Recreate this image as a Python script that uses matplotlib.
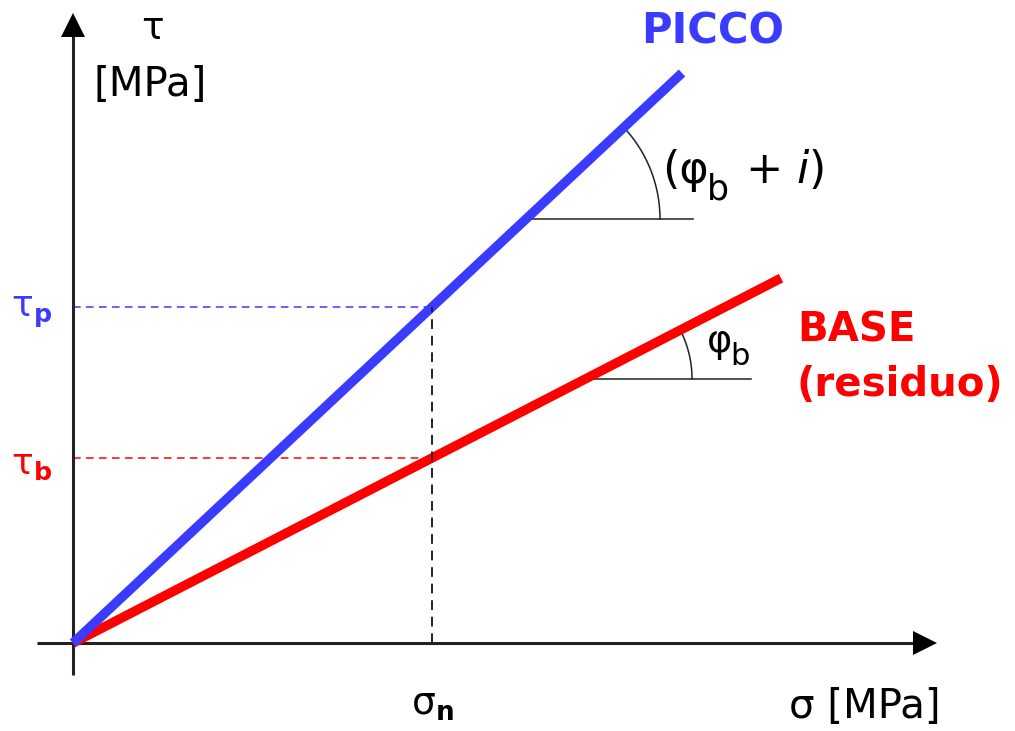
import numpy as np
import matplotlib
matplotlib.use("Agg")
import matplotlib.pyplot as plt

plt.rcParams['font.family'] = ['DejaVu Sans']
plt.rcParams['mathtext.fontset'] = 'dejavusans'

# schematic shear strength envelope (arbitrary MPa units)
sigma_n = 3.59
tau_p = 3.36
tau_b = 1.85
sigma_end_peak = 6.09
sigma_end_base = 7.08

# angle markers: (sigma at start of horizontal, sigma at end, arc radius)
peak_mark = (4.53, 6.20, 1.34)
base_mark = (5.13, 6.78, 1.06)

slope_p = tau_p / sigma_n
slope_b = tau_b / sigma_n

fig = plt.figure(figsize=(10.15, 7.31), dpi=100)
ax = fig.add_axes([0, 0, 1, 1])
ax.set_xlim(-0.73, 9.42)
ax.set_ylim(-0.88, 6.43)
ax.axis('off')

blue = '#3b3bff'
red = '#ff0000'
ink = '#222222'

# axes with arrow heads
ax.plot([-0.36, 8.55], [0, 0], color=ink, lw=2.2, solid_capstyle='butt', zorder=2)
ax.plot([0, 0], [-0.32, 6.2], color=ink, lw=2.2, solid_capstyle='butt', zorder=2)
ax.plot(8.525, 0, marker='>', color='k', ms=17, mew=0)
ax.plot(0, 6.185, marker='^', color='k', ms=17, mew=0)

# envelopes
xs_p = np.array([0, sigma_end_peak])
xs_b = np.array([0, sigma_end_base])
ax.plot(xs_b, slope_b * xs_b, color=red, lw=6.8, solid_capstyle='butt', zorder=3)
ax.plot(xs_p, slope_p * xs_p, color=blue, lw=6.8, solid_capstyle='butt', zorder=4)

# reference dashed lines
dash = (0, (5, 3.5))
ax.plot([0, sigma_n], [tau_p, tau_p], color=blue, lw=1.1, linestyle=dash, zorder=1)
ax.plot([0, sigma_n], [tau_b, tau_b], color=red, lw=1.1, linestyle=dash, zorder=1)
ax.plot([sigma_n, sigma_n], [0, tau_p], color=ink, lw=1.4, linestyle=dash, zorder=5)

# angle markers
for (s0, s1, r), slope in [(peak_mark, slope_p), (base_mark, slope_b)]:
    y0 = slope * s0
    ax.plot([s0, s1], [y0, y0], color=ink, lw=1.1, zorder=1)
    th = np.linspace(0, np.arctan(slope), 60)
    ax.plot(s0 + r * np.cos(th), y0 + r * np.sin(th), color=ink, lw=1.1, zorder=1)

# axis labels
ax.text(0.79, 6.14, 'τ', fontsize=27, ha='center', va='center')
ax.text(0.77, 5.58, '[MPa]', fontsize=29, ha='center', va='center')
ax.text(7.92, -0.64, 'σ [MPa]', fontsize=29, ha='center', va='center')

# envelope names
ax.text(6.40, 6.12, 'PICCO', fontsize=30, fontweight='bold', color=blue,
        ha='center', va='center')
ax.text(7.24, 3.13, 'BASE', fontsize=29, fontweight='bold', color=red,
        ha='left', va='center')
ax.text(7.24, 2.58, '(residuo)', fontsize=29, fontweight='bold', color=red,
        ha='left', va='center')

# angle labels
ax.text(5.89, 4.60, '(φ', fontsize=32, ha='left', va='baseline')
ax.text(6.34, 4.43, 'b', fontsize=25, ha='left', va='baseline')
ax.text(6.72, 4.60, r'+ $i$)', fontsize=32, ha='left', va='baseline')
ax.text(6.34, 2.91, 'φ', fontsize=27.5, ha='left', va='baseline')
ax.text(6.57, 2.78, 'b', fontsize=22, ha='left', va='baseline')

# value labels
ax.text(-0.41, 3.31, r'$\mathrm{\tau}_{\mathbf{p}}$', fontsize=26, color=blue,
        ha='center', va='center')
ax.text(-0.41, 1.78, r'$\mathrm{\tau}_{\mathbf{b}}$', fontsize=26, color=red,
        ha='center', va='center')
ax.text(3.59, -0.62, r'$\mathrm{\sigma}_{\mathbf{n}}$', fontsize=27,
        ha='center', va='center')

fig.savefig('out.png', dpi=100, facecolor='white')
